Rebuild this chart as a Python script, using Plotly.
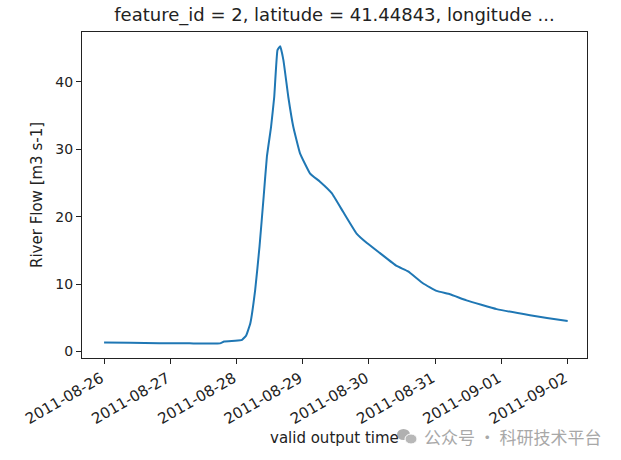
import plotly.graph_objects as go

times = [
    "2011-08-26 00:00", "2011-08-26 09:30", "2011-08-26 20:00", "2011-08-27 07:00",
    "2011-08-27 18:00", "2011-08-27 19:30", "2011-08-27 23:30", "2011-08-28 02:00",
    "2011-08-28 03:30", "2011-08-28 05:00", "2011-08-28 06:45", "2011-08-28 08:20",
    "2011-08-28 09:50", "2011-08-28 11:00", "2011-08-28 12:30", "2011-08-28 13:40",
    "2011-08-28 14:50", "2011-08-28 15:50", "2011-08-28 17:00", "2011-08-28 18:45",
    "2011-08-28 20:35", "2011-08-28 23:00", "2011-08-29 02:40", "2011-08-29 06:15",
    "2011-08-29 10:30", "2011-08-29 14:40", "2011-08-29 19:30", "2011-08-29 23:15",
    "2011-08-30 04:00", "2011-08-30 10:00", "2011-08-30 14:10", "2011-08-30 19:40",
    "2011-08-31 00:30", "2011-08-31 05:20", "2011-08-31 11:20", "2011-08-31 22:15",
    "2011-09-01 10:20", "2011-09-01 22:45", "2011-09-02 00:00",
]
flow = [
    1.35, 1.30, 1.25, 1.22,
    1.22, 1.50, 1.60, 1.75,
    2.4, 4.2, 9.1, 15.6,
    23.0, 28.9, 33.3, 37.8,
    44.7, 45.3, 43.2, 37.8,
    33.3, 29.4, 26.4, 25.2,
    23.5, 20.7, 17.5, 16.1,
    14.6, 12.7, 11.9, 10.1,
    9.0, 8.5, 7.6, 6.3,
    5.4, 4.6, 4.55,
]
x_ticks = ["2011-08-26", "2011-08-27", "2011-08-28", "2011-08-29",
           "2011-08-30", "2011-08-31", "2011-09-01", "2011-09-02"]
y_ticks = [0, 10, 20, 30, 40]

title_text = "feature_id = 2, latitude = 41.44843, longitude ..."
font = "DejaVu Sans"

fig = go.Figure()
fig.add_trace(go.Scatter(x=times, y=flow, mode="lines",
                         line=dict(color="#1f77b4", width=2, shape="spline", smoothing=0.3),
                         showlegend=False, hoverinfo="skip"))

W, H = 621, 460
L, R, T, B = 82, 34, 32, 102
fig.update_layout(
    width=W, height=H,
    margin=dict(l=L, r=R, t=T, b=B),
    paper_bgcolor="white", plot_bgcolor="white",
    font=dict(family=font, size=14, color="#222"),
    title=dict(text=title_text, x=(L + (W - R)) / 2 / W, xanchor="center",
               y=1 - 15 / H, yanchor="middle", font=dict(size=18, color="#222")),
    xaxis=dict(
        range=["2011-08-25 16:00", "2011-09-02 07:00"],
        tickmode="array", tickvals=x_ticks, ticktext=x_ticks,
        tickangle=-30, ticks="outside", ticklen=5, tickcolor="#222",
        ticklabelshift=-3,
        showline=True, mirror=True, linecolor="#222", linewidth=1,
        showgrid=False, zeroline=False,
        tickfont=dict(size=15, color="#222"),
    ),
    yaxis=dict(
        range=[-0.95, 47.4],
        tickmode="array", tickvals=y_ticks,
        ticks="outside", ticklen=5, tickcolor="#222",
        showline=True, mirror=True, linecolor="#222", linewidth=1,
        showgrid=False, zeroline=False,
        tickfont=dict(size=14, color="#222"),
    ),
)

pw, ph = W - L - R, H - T - B
def px(x):
    return (x - L) / pw
def py(y):
    return ((H - B) - y) / ph

fig.add_annotation(text="River Flow [m3 s-1]", xref="paper", yref="paper",
                   x=px(37), y=0.5, textangle=-90,
                   showarrow=False, font=dict(size=15, color="#222"),
                   xanchor="center", yanchor="middle")
fig.add_annotation(text="valid output time", xref="paper", yref="paper",
                   x=0.5, y=py(438),
                   showarrow=False, font=dict(size=15, color="#222"),
                   xanchor="center", yanchor="middle")

# watermark
fig.add_annotation(text="公众号 · 科研技术平台", xref="paper", yref="paper",
                   x=px(422), y=py(436), xanchor="left", yanchor="middle",
                   showarrow=False,
                   font=dict(family="Noto Sans CJK SC", size=17, color="#a8a8a8"))
fig.add_shape(type="circle", xref="paper", yref="paper",
              x0=px(397), x1=px(410), y0=py(440), y1=py(429),
              fillcolor="#b0b0b0", line=dict(width=0))
fig.add_shape(type="circle", xref="paper", yref="paper",
              x0=px(405), x1=px(417), y0=py(444), y1=py(434),
              fillcolor="#b8b8b8", line=dict(color="white", width=1))

fig.write_html("out.html", config={"displayModeBar": False},
               post_script="document.body.style.margin='0';document.body.style.overflow='hidden';")
